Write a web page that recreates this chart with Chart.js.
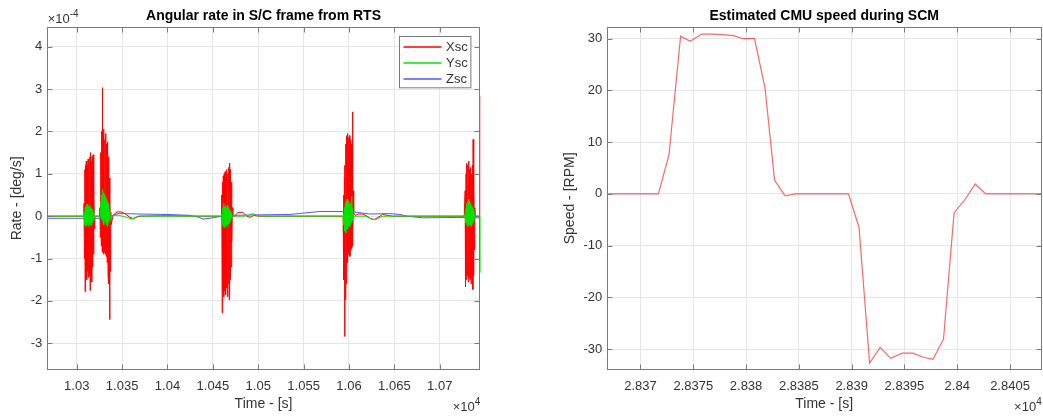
<!DOCTYPE html>
<html>
<head>
<meta charset="utf-8">
<title>Angular rate / CMU speed</title>
<script src="https://cdn.jsdelivr.net/npm/chart.js@4.4.1/dist/chart.umd.min.js"></script>
<style>
  html, body { margin: 0; padding: 0; background: #fff; }
  #wrap { position: relative; width: 1043px; height: 416px; overflow: hidden; }
  #wrap canvas { position: absolute; top: 0; }
</style>
</head>
<body>
<div id="wrap">
  <canvas id="rateChart" width="521" height="416" style="left:0"></canvas>
  <canvas id="speedChart" width="522" height="416" style="left:521px"></canvas>
</div>
<script>
// ---- left plot: angular rate, [time s, rate x1e-4 deg/s] ----
const xscSamples = [
  [10266.9, 0.00], [10307.5, 0.00],
  // burst 1
  [10308.0, 0.30], [10308.5, -1.00], [10309.0, 1.10], [10309.2, -1.78], [10309.5, 1.20], [10310.0, -1.40], [10310.5, 1.30],
  [10311.0, -1.50], [10311.5, 1.20], [10312.0, -1.30], [10312.5, 1.35], [10313.0, -1.45], [10313.5, 1.25], [10314.0, -1.40],
  [10314.5, 1.40], [10314.7, -1.75], [10315.0, 1.50], [10315.5, -1.35], [10316.0, 1.30], [10316.5, -1.55], [10317.0, 1.40],
  [10317.5, -1.20], [10318.0, 1.45], [10318.5, -0.90], [10319.0, 0.60], [10319.5, -0.30], [10320.0, 0.00],
  [10325.0, 0.00],
  // burst 2
  [10325.5, 0.20], [10326.0, -0.50], [10326.5, 1.50], [10327.0, -0.70], [10327.5, 2.00], [10328.0, -0.85], [10328.3, 3.03],
  [10328.6, -0.80], [10329.0, 1.90], [10329.5, -0.90], [10330.0, 2.05], [10330.5, -0.85], [10331.0, 1.80], [10331.5, -0.90],
  [10332.0, 1.95], [10332.5, -0.95], [10333.0, 1.70], [10333.5, -1.10], [10334.0, 1.75], [10334.5, -1.40], [10335.0, 1.40],
  [10335.5, -1.60], [10336.0, 0.90], [10336.3, -2.44], [10336.6, 0.50], [10337.0, -1.30], [10337.5, 0.10], [10338.0, -0.20],
  // quiet
  [10340.0, 0.02], [10344.4, 0.10], [10349.0, 0.10], [10353.0, 0.06], [10358.0, -0.02], [10362.0, -0.06], [10366.0, -0.02],
  [10370.0, 0.00], [10400.0, 0.01], [10430.0, 0.00], [10459.0, 0.00],
  // burst 3
  [10459.5, 0.00], [10460.0, 0.50], [10460.3, -2.28], [10460.7, 0.80], [10461.0, -1.80], [10461.5, 0.95], [10462.0, -1.90],
  [10462.5, 1.00], [10463.0, -1.75], [10463.5, 1.05], [10464.0, -1.85], [10464.5, 0.90], [10465.0, -1.70], [10465.5, 1.10],
  [10466.0, -1.90], [10466.5, 1.00], [10467.0, -1.60], [10467.5, 1.15], [10468.0, -1.97], [10468.5, 1.25], [10469.0, -1.50],
  [10469.5, 1.10], [10470.0, -1.20], [10470.5, 0.80], [10471.0, -0.60], [10471.5, 0.20], [10472.0, 0.00],
  // quiet
  [10474.0, 0.00], [10477.6, 0.09], [10483.0, 0.09], [10487.5, 0.00], [10491.0, -0.03], [10495.0, 0.02], [10500.0, 0.00],
  [10550.0, 0.00], [10593.0, 0.00],
  // burst 4
  [10593.5, 0.00], [10594.0, 0.50], [10594.5, -1.50], [10595.0, 0.90], [10595.2, -2.84], [10595.6, 1.20], [10596.0, -1.97],
  [10596.5, 1.70], [10597.0, -1.60], [10597.5, 1.90], [10598.0, -1.10], [10598.5, 1.95], [10599.0, -0.90], [10599.5, 1.85],
  [10600.0, -0.85], [10600.5, 1.90], [10601.0, -0.95], [10601.5, 1.80], [10602.0, -0.80], [10602.5, 1.70], [10603.0, -0.75],
  [10603.5, 1.60], [10603.8, -0.70], [10604.0, 2.46], [10604.4, -0.30], [10604.8, 0.60], [10605.2, 0.05],
  // quiet
  [10607.0, 0.02], [10610.0, 0.05], [10615.0, 0.05], [10620.0, 0.00], [10624.0, -0.06], [10628.0, -0.08], [10632.0, -0.03],
  [10637.0, 0.04], [10642.0, 0.02], [10648.0, 0.00], [10700.0, 0.00], [10727.0, 0.00],
  // burst 5
  [10727.5, 0.00], [10728.0, 0.60], [10728.4, -1.66], [10729.0, 1.00], [10729.5, -1.50], [10730.0, 1.25], [10730.5, -1.40],
  [10731.0, 1.20], [10731.5, -1.55], [10732.0, 1.30], [10732.5, -1.45], [10733.0, 1.10], [10733.5, -1.50], [10734.0, 1.15],
  [10734.5, -1.60], [10735.0, 1.00], [10735.5, -1.45], [10736.0, 1.20], [10736.5, -1.73], [10736.8, 1.81], [10737.2, -1.40],
  [10737.7, 0.90], [10738.2, -0.80], [10738.7, 0.20], [10739.2, 0.00],
  [10744.4, 0.00], [10744.7, 2.84]
];

const yscSamples = [
  [10266.9, 0.00], [10308.0, 0.00],
  [10308.5, 0.10], [10309.0, -0.20], [10309.5, 0.20], [10310.0, -0.24], [10310.5, 0.25], [10311.0, -0.22], [10311.5, 0.28],
  [10312.0, -0.20], [10312.5, 0.24], [10313.0, -0.24], [10313.5, 0.22], [10314.0, -0.18], [10314.5, 0.25], [10315.0, -0.20],
  [10315.5, 0.20], [10316.0, -0.22], [10316.5, 0.18], [10317.0, -0.15], [10317.5, 0.15], [10318.0, -0.10], [10318.5, 0.08],
  [10319.0, -0.05], [10319.5, 0.00], [10326.0, 0.00],
  [10326.5, 0.35], [10327.0, -0.05], [10327.5, 0.50], [10328.0, -0.10], [10328.5, 0.63], [10329.0, -0.15], [10329.5, 0.55],
  [10330.0, -0.20], [10330.5, 0.50], [10331.0, -0.10], [10331.5, 0.45], [10332.0, -0.15], [10332.5, 0.40], [10333.0, -0.20],
  [10333.5, 0.35], [10334.0, -0.24], [10334.5, 0.30], [10335.0, -0.15], [10335.5, 0.20], [10336.0, -0.10], [10336.5, 0.10],
  [10337.0, -0.05], [10337.5, 0.00],
  [10342.0, 0.02], [10346.0, 0.02], [10350.0, 0.00], [10355.0, -0.03], [10360.0, -0.06], [10364.0, -0.05], [10368.0, 0.00],
  [10459.5, 0.00],
  [10460.0, 0.05], [10460.5, -0.20], [10461.0, 0.20], [10461.5, -0.25], [10462.0, 0.30], [10462.5, -0.27], [10463.0, 0.22],
  [10463.5, -0.20], [10464.0, 0.25], [10464.5, -0.25], [10465.0, 0.20], [10465.5, -0.22], [10466.0, 0.25], [10466.5, -0.20],
  [10467.0, 0.20], [10467.5, -0.18], [10468.0, 0.15], [10468.5, -0.15], [10469.0, 0.12], [10469.5, -0.10], [10470.0, 0.08],
  [10470.5, -0.05], [10471.0, 0.02], [10471.5, 0.00],
  [10485.0, 0.00], [10490.0, 0.03], [10494.0, 0.06], [10498.0, 0.02], [10503.0, 0.00], [10593.5, 0.00],
  [10594.0, 0.05], [10594.5, -0.20], [10595.0, 0.20], [10595.5, -0.35], [10596.0, 0.30], [10596.5, -0.39], [10597.0, 0.35],
  [10597.5, -0.30], [10598.0, 0.40], [10598.5, -0.30], [10599.0, 0.35], [10599.5, -0.25], [10600.0, 0.30], [10600.5, -0.25],
  [10601.0, 0.30], [10601.5, -0.20], [10602.0, 0.30], [10602.5, -0.15], [10603.0, 0.47], [10603.5, -0.10], [10604.0, 0.20],
  [10604.5, -0.05], [10605.0, 0.00],
  [10618.0, 0.00], [10622.0, -0.04], [10626.0, -0.08], [10630.0, -0.08], [10634.0, -0.03], [10638.0, 0.00], [10727.5, 0.00],
  [10728.0, 0.05], [10728.5, -0.15], [10729.0, 0.20], [10729.5, -0.20], [10730.0, 0.30], [10730.5, -0.24], [10731.0, 0.35],
  [10731.5, -0.20], [10732.0, 0.40], [10732.5, -0.22], [10733.0, 0.35], [10733.5, -0.20], [10734.0, 0.30], [10734.5, -0.24],
  [10735.0, 0.25], [10735.5, -0.20], [10736.0, 0.20], [10736.5, -0.15], [10737.0, 0.15], [10737.5, -0.10], [10738.0, 0.05],
  [10738.5, 0.00],
  [10744.4, 0.00], [10744.7, -1.33]
];

const zscSamples = [
  [10266.9, -0.05], [10300.0, -0.05], [10330.0, -0.05], [10337.8, 0.00], [10345.5, 0.06], [10349.9, 0.06], [10369.7, 0.05],
  [10399.4, 0.04], [10424.8, 0.02], [10435.0, -0.03], [10439.1, -0.07], [10446.8, -0.05], [10454.5, -0.02], [10472.1, 0.02],
  [10498.6, 0.03], [10534.9, 0.04], [10553.6, 0.08], [10567.9, 0.11], [10593.3, 0.11], [10608.7, 0.09], [10623.0, 0.05],
  [10645.1, 0.06], [10656.1, 0.04], [10663.8, 0.00], [10681.4, -0.04], [10718.8, -0.03], [10744.7, -0.04]
];

const rateSeriesNames = ['Xsc', 'Ysc', 'Zsc'];
const rateSeriesColors = ['#ff0000', '#00e600', '#5555ff'];

const rateXTicks = [10300, 10350, 10400, 10450, 10500, 10550, 10600, 10650, 10700];
const rateXTickLabels = ['1.03', '1.035', '1.04', '1.045', '1.05', '1.055', '1.06', '1.065', '1.07'];
const rateYTicks = [-3, -2, -1, 0, 1, 2, 3, 4];

// ---- right plot: CMU speed ----
const cmuTime = [28366.8, 28367.8, 28368.8, 28369.8, 28370.8, 28371.7, 28372.7, 28373.8, 28374.7, 28375.8, 28376.7,
  28377.8, 28378.8, 28379.7, 28380.8, 28381.8, 28382.7, 28383.7, 28384.7, 28385.8, 28386.8, 28387.8, 28388.8, 28389.7,
  28390.7, 28391.7, 28392.7, 28393.7, 28394.8, 28395.8, 28396.8, 28397.7, 28398.7, 28399.7, 28400.8, 28401.7, 28402.7,
  28403.8, 28404.8, 28405.8, 28406.9, 28408.0];
const cmuSpeed = [0, 0, 0, 0, 0, 0, 7.6, 30.5, 29.5, 30.9, 30.9, 30.8, 30.6, 30.0, 30.0, 20.4, 2.6, -0.4, 0, 0, 0, 0, 0, 0,
  -6.5, -32.7, -29.7, -31.8, -30.8, -30.8, -31.6, -32.0, -28.1, -3.7, -0.9, 1.9, 0, 0, 0, 0, 0, 0];

const speedXTicks = [28370, 28375, 28380, 28385, 28390, 28395, 28400, 28405];
const speedXTickLabels = ['2.837', '2.8375', '2.838', '2.8385', '2.839', '2.8395', '2.84', '2.8405'];
const speedYTicks = [-30, -20, -10, 0, 10, 20, 30];

const FONT = '"Liberation Sans", Arial, Helvetica, sans-serif';
const frameColor = '#7a7a7a';
const gridColor = '#e6e6e6';
const textColor = '#333333';

// legend entries per canvas id (kept outside plugin options so chart.js does not resolve them)
const legendEntries = {
  rateChart: rateSeriesNames.map((n, i) => ({ name: n, color: rateSeriesColors[i] }))
};

// matlab-like box, inward ticks, title, exponent labels, legend
const matlabFrame = {
  id: 'matlabFrame',
  afterDraw(chart, args, opts) {
    const { ctx, chartArea: a, scales } = chart;
    const xs = scales.x, ys = scales.y;
    ctx.save();
    const L = Math.round(a.left) + 0.5, R = Math.round(a.right) - 0.5;
    const T = Math.round(a.top) + 0.5, B = Math.round(a.bottom) - 0.5;
    ctx.strokeStyle = frameColor;
    ctx.lineWidth = 1;
    ctx.strokeRect(L, T, R - L, B - T);
    ctx.beginPath();
    xs.ticks.forEach(t => {
      const px = Math.round(xs.getPixelForValue(t.value)) + 0.5;
      ctx.moveTo(px, B); ctx.lineTo(px, B - 5);
      ctx.moveTo(px, T); ctx.lineTo(px, T + 5);
    });
    ys.ticks.forEach(t => {
      const py = Math.round(ys.getPixelForValue(t.value)) + 0.5;
      ctx.moveTo(L, py); ctx.lineTo(L + 5, py);
      ctx.moveTo(R, py); ctx.lineTo(R - 5, py);
    });
    ctx.stroke();

    // title
    ctx.fillStyle = '#000';
    ctx.font = 'bold 14px ' + FONT;
    ctx.textAlign = 'center';
    ctx.textBaseline = 'alphabetic';
    ctx.fillText(opts.title, (a.left + a.right) / 2, 20);

    // exponent labels
    ctx.fillStyle = textColor;
    if (opts.topExp) {
      ctx.textAlign = 'left';
      ctx.font = '13px ' + FONT;
      const w = ctx.measureText('×10').width;
      ctx.fillText('×10', a.left + 1, 23);
      ctx.font = '10px ' + FONT;
      ctx.fillText(opts.topExp, a.left + 1 + w, 17);
    }
    if (opts.bottomExp) {
      ctx.textAlign = 'right';
      ctx.font = '10px ' + FONT;
      const w = ctx.measureText(opts.bottomExp).width;
      ctx.fillText(opts.bottomExp, a.right, 405);
      ctx.font = '13px ' + FONT;
      ctx.fillText('×10', a.right - w, 411);
    }

    // legend box inside axes
    const entries = legendEntries[chart.canvas.id];
    if (entries) {
      const bw = 71.4, bh = 51.3;
      const bx = Math.round(a.right - 9.6 - bw) + 0.5, by = Math.round(a.top + 9.3) + 0.5;
      ctx.fillStyle = '#fff';
      ctx.fillRect(bx, by, bw, bh);
      ctx.strokeStyle = frameColor;
      ctx.strokeRect(bx, by, bw, bh);
      ctx.font = '13px ' + FONT;
      ctx.textAlign = 'left';
      ctx.textBaseline = 'middle';
      entries.forEach((e, i) => {
        const yy = Math.round(by + 10.5 + i * 16.2);
        ctx.strokeStyle = e.color;
        ctx.lineWidth = 1.6;
        ctx.beginPath();
        ctx.moveTo(bx + 4, yy);
        ctx.lineTo(bx + 42, yy);
        ctx.stroke();
        ctx.fillStyle = textColor;
        ctx.fillText(e.name, bx + 46.5, yy);
      });
    }
    ctx.restore();
  }
};

function toPoints(pairs) {
  return pairs.map(p => ({ x: p[0], y: p[1] }));
}

function axisOptions(cfg) {
  return {
    x: {
      type: 'linear',
      min: cfg.xMin, max: cfg.xMax,
      afterBuildTicks: s => { s.ticks = cfg.xTicks.map(v => ({ value: v })); },
      afterFit: s => { s.height = 46; },
      grid: { color: gridColor, drawTicks: false },
      border: { display: false },
      ticks: {
        padding: 9, color: textColor, font: { family: FONT, size: 13 },
        maxRotation: 0, autoSkip: false,
        callback: (v, i) => cfg.xLabels[i]
      },
      title: {
        display: true, text: 'Time - [s]', color: textColor,
        font: { family: FONT, size: 14 }, padding: { top: 0, bottom: 3 }
      }
    },
    y: {
      type: 'linear',
      min: cfg.yMin, max: cfg.yMax,
      afterBuildTicks: s => { s.ticks = cfg.yTicks.map(v => ({ value: v })); },
      afterFit: s => { s.width = cfg.yWidth; },
      grid: { color: gridColor, drawTicks: false },
      border: { display: false },
      ticks: {
        padding: 4.5, color: textColor, font: { family: FONT, size: 13 },
        autoSkip: false,
        callback: v => String(v)
      },
      title: {
        display: true, text: cfg.yTitle, color: textColor,
        font: { family: FONT, size: 14 }, padding: { top: cfg.yTitlePad, bottom: 0 }
      }
    }
  };
}

const lineStyle = { pointRadius: 0, borderWidth: 1, tension: 0, fill: false };

new Chart(document.getElementById('rateChart'), {
  type: 'line',
  data: {
    datasets: [
      { label: rateSeriesNames[0], data: toPoints(xscSamples), borderColor: rateSeriesColors[0], order: 3, ...lineStyle },
      { label: rateSeriesNames[1], data: toPoints(yscSamples), borderColor: rateSeriesColors[1], order: 1, ...lineStyle },
      { label: rateSeriesNames[2], data: toPoints(zscSamples), borderColor: rateSeriesColors[2], order: 2, ...lineStyle }
    ]
  },
  options: {
    responsive: false,
    animation: false,
    events: [],
    layout: { padding: { left: 0, top: 26.7, right: 40.7, bottom: 0 } },
    scales: axisOptions({
      xMin: 10266.9, xMax: 10744.7, xTicks: rateXTicks, xLabels: rateXTickLabels,
      yMin: -3.63, yMax: 4.47, yTicks: rateYTicks, yWidth: 46.7,
      yTitle: 'Rate - [deg/s]', yTitlePad: 9
    }),
    plugins: {
      legend: { display: false },
      tooltip: { enabled: false },
      matlabFrame: { title: 'Angular rate in S/C frame from RTS', topExp: '-4', bottomExp: '4' }
    }
  },
  plugins: [matlabFrame]
});

new Chart(document.getElementById('speedChart'), {
  type: 'line',
  data: {
    datasets: [
      { label: 'CMU speed', data: cmuTime.map((t, i) => ({ x: t, y: cmuSpeed[i] })), borderColor: 'rgba(255,0,0,0.6)', ...lineStyle, borderWidth: 1.2 }
    ]
  },
  options: {
    responsive: false,
    animation: false,
    events: [],
    layout: { padding: { left: 0, top: 26.7, right: 1.3, bottom: 0 } },
    scales: axisOptions({
      xMin: 28366.8, xMax: 28408.0, xTicks: speedXTicks, xLabels: speedXTickLabels,
      yMin: -34.06, yMax: 32.32, yTicks: speedYTicks, yWidth: 85.7,
      yTitle: 'Speed - [RPM]', yTitlePad: 40.6
    }),
    plugins: {
      legend: { display: false },
      tooltip: { enabled: false },
      matlabFrame: { title: 'Estimated CMU speed during SCM', topExp: '', bottomExp: '4' }
    }
  },
  plugins: [matlabFrame]
});
</script>
</body>
</html>
